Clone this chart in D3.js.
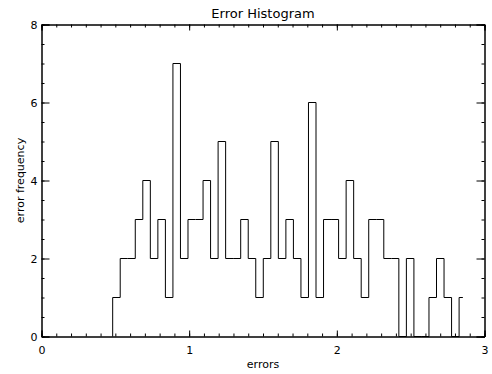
<!DOCTYPE html>
<html>
<head>
<meta charset="utf-8">
<script src="https://cdn.jsdelivr.net/npm/d3@7"></script>
<style>
  html, body { margin: 0; padding: 0; background: #fff; }
  svg { display: block; }
  text { font-family: "DejaVu Sans", sans-serif; fill: #000; }
</style>
</head>
<body>
<script>
// ---- data ----
const title = "Error Histogram";
const xLabel = "errors";
const yLabel = "error frequency";
const binStart = 0.482;   // left edge of first bin
const binWidth = 0.051;   // bin width
const counts = [1,2,2,3,4,2,3,1,7,2,3,3,4,2,5,2,2,3,2,1,2,5,2,3,2,1,6,1,3,3,2,4,2,1,3,3,2,2,0,2,0,0,1,2,1,0,1];
const xMajorTicks = [0, 1, 2, 3];
const yMajorTicks = [0, 2, 4, 6, 8];
const xMinorTicks = [0,0.1,0.2,0.3,0.4,0.5,0.6,0.7,0.8,0.9,1,1.1,1.2,1.3,1.4,1.5,1.6,1.7,1.8,1.9,2,2.1,2.2,2.3,2.4,2.5,2.6,2.7,2.8,2.9,3];
const yMinorTicks = [0,0.5,1,1.5,2,2.5,3,3.5,4,4.5,5,5.5,6,6.5,7,7.5,8];

// ---- layout ----
const W = 492, H = 374;
const svg = d3.select("body").append("svg").attr("width", W).attr("height", H);
const x = d3.scaleLinear().domain([0, 3]).range([41.5, 484.5]);
const y = d3.scaleLinear().domain([0, 8]).range([336.5, 24.5]);

// histogram step path (IDL psym=10 style: last point drawn half-width)
const n = counts.length;
const pts = [];
pts.push([x(binStart), y(0)]);
counts.forEach((c, i) => {
  const left = binStart + binWidth * i;
  const right = (i === n - 1) ? left + binWidth / 2 : left + binWidth;
  pts.push([x(left), y(c)]);
  pts.push([x(right), y(c)]);
});
svg.append("path")
  .attr("d", d3.line()(pts))
  .attr("fill", "none")
  .attr("stroke", "#000")
  .attr("stroke-width", 1);

// ---- axes ----
function styleAxis(g) {
  g.select(".domain").attr("stroke", "#000").attr("stroke-width", 1);
  g.selectAll(".tick line").attr("stroke", "#000");
  g.selectAll("text").attr("font-size", 11).attr("font-family", "DejaVu Sans, sans-serif");
}
// bottom
svg.append("g").attr("transform", `translate(0,${y(0)})`)
  .call(d3.axisBottom(x).tickValues(xMinorTicks).tickSize(-3).tickFormat(""))
  .call(styleAxis);
svg.append("g").attr("transform", `translate(0,${y(0)})`)
  .call(d3.axisBottom(x).tickValues(xMajorTicks).tickSize(-6).tickPadding(10).tickFormat(d3.format("d")))
  .call(styleAxis);
// top
svg.append("g").attr("transform", `translate(0,${y(8)})`)
  .call(d3.axisTop(x).tickValues(xMinorTicks).tickSize(-3).tickFormat(""))
  .call(styleAxis);
svg.append("g").attr("transform", `translate(0,${y(8)})`)
  .call(d3.axisTop(x).tickValues(xMajorTicks).tickSize(-6).tickFormat(""))
  .call(styleAxis);
// left
svg.append("g").attr("transform", `translate(${x(0)},0)`)
  .call(d3.axisLeft(y).tickValues(yMinorTicks).tickSize(-3).tickFormat(""))
  .call(styleAxis);
svg.append("g").attr("transform", `translate(${x(0)},0)`)
  .call(d3.axisLeft(y).tickValues(yMajorTicks).tickSize(-8).tickPadding(4).tickFormat(d3.format("d")))
  .call(styleAxis);
// right
svg.append("g").attr("transform", `translate(${x(3)},0)`)
  .call(d3.axisRight(y).tickValues(yMinorTicks).tickSize(-3).tickFormat(""))
  .call(styleAxis);
svg.append("g").attr("transform", `translate(${x(3)},0)`)
  .call(d3.axisRight(y).tickValues(yMajorTicks).tickSize(-8).tickFormat(""))
  .call(styleAxis);

// ---- titles ----
svg.append("text")
  .attr("x", (x(0) + x(3)) / 2).attr("y", 18)
  .attr("text-anchor", "middle").attr("font-size", 13)
  .text(title);
svg.append("text")
  .attr("x", (x(0) + x(3)) / 2).attr("y", 368)
  .attr("text-anchor", "middle").attr("font-size", 11)
  .text(xLabel);
svg.append("text")
  .attr("transform", `translate(24,${(y(0) + y(8)) / 2}) rotate(-90)`)
  .attr("text-anchor", "middle").attr("font-size", 11)
  .text(yLabel);
</script>
</body>
</html>
